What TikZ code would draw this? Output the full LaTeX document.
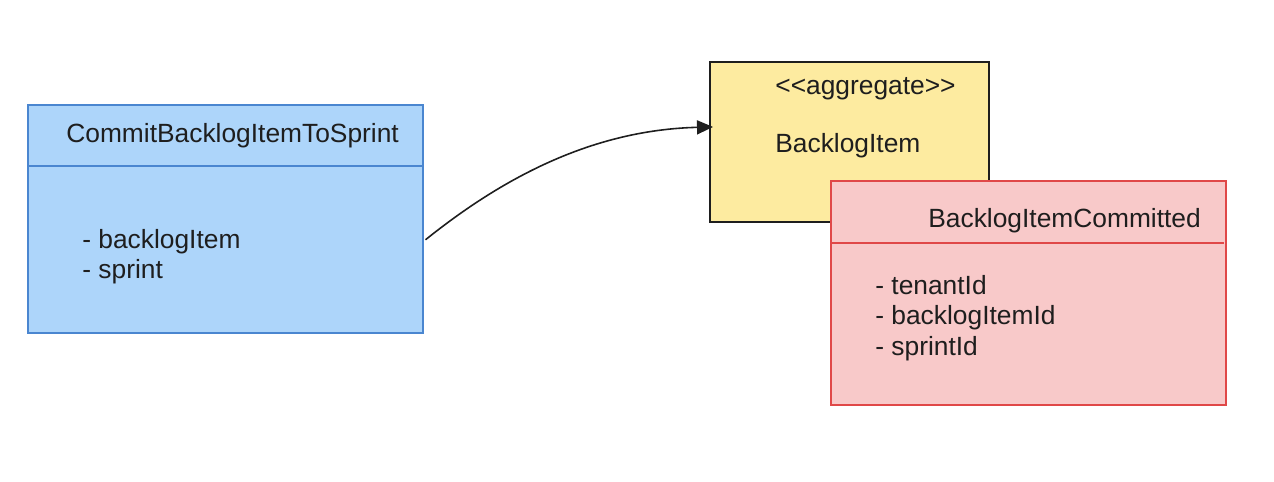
\documentclass[tikz,border=0pt]{standalone}
\usepackage{fontspec}
\setmainfont{Liberation Sans}
\usetikzlibrary{arrows.meta}
\tikzset{>={Triangle[width=2.8mm,length=3.2mm]}}

\definecolor{cmdfill}{HTML}{ADD5FA}
\definecolor{cmdline}{HTML}{4A86D0}
\definecolor{aggfill}{HTML}{FDEBA0}
\definecolor{aggline}{HTML}{1E1E1E}
\definecolor{evtfill}{HTML}{F8C9C9}
\definecolor{evtline}{HTML}{E04848}
\definecolor{ink}{HTML}{1E1E1E}

\tikzset{
  classbox/.style={draw,line width=0.9pt,anchor=north west,inner sep=0pt},
  label/.style={anchor=base west,inner sep=0pt,text=ink,font=\fontsize{15}{17}\selectfont}
}

\begin{document}
\begin{tikzpicture}[x=0.02cm,y=-0.02cm]

  \useasboundingbox[fill=white] (0,0) rectangle (1274,482);

  % boxes
  \node[classbox,fill=cmdfill,draw=cmdline,minimum width=7.9cm,minimum height=4.56cm] (cmd) at (27,104) {};
  \node[classbox,fill=aggfill,draw=aggline,line width=1.1pt,minimum width=5.58cm,minimum height=3.2cm] (agg) at (709,61) {};
  \node[classbox,fill=evtfill,draw=evtline,minimum width=7.9cm,minimum height=4.48cm] (evt) at (830,180) {};

  \draw[cmdline,line width=0.8pt] ([yshift=-1.24cm]cmd.north west) -- ([yshift=-1.24cm]cmd.north east);
  \draw[evtline,line width=0.8pt] ([yshift=-1.26cm]evt.north west) -- ([yshift=-1.26cm,xshift=-0.06cm]evt.north east);

  % texts (base line positions)
  \node[label] (cmdname) at (66,143) {CommitBacklogItemToSprint};
  \node[label] (cmdf1) at (82,249) {- backlogItem};
  \node[label] (cmdf2) at (82,279) {- sprint};

  \node[label] (aggtype) at (775,95) {{<}{<}aggregate{>}{>}};
  \node[label] (aggname) at (775,153) {BacklogItem};

  \node[label] (evtname) at (928,228) {BacklogItemCommitted};
  \node[label] (evtf1) at (875,295) {- tenantId};
  \node[label] (evtf2) at (875,325) {- backlogItemId};
  \node[label] (evtf3) at (875,356) {- sprintId};

  % connector
  \coordinate (from) at ([xshift=0.04cm,yshift=-0.42cm]cmd.east);
  \coordinate (to) at ([xshift=0.08cm,yshift=0.3cm]agg.west);
  \draw[ink,line width=0.9pt,->] (from) .. controls (500,180) and (590,130) .. (to);

\end{tikzpicture}
\end{document}
